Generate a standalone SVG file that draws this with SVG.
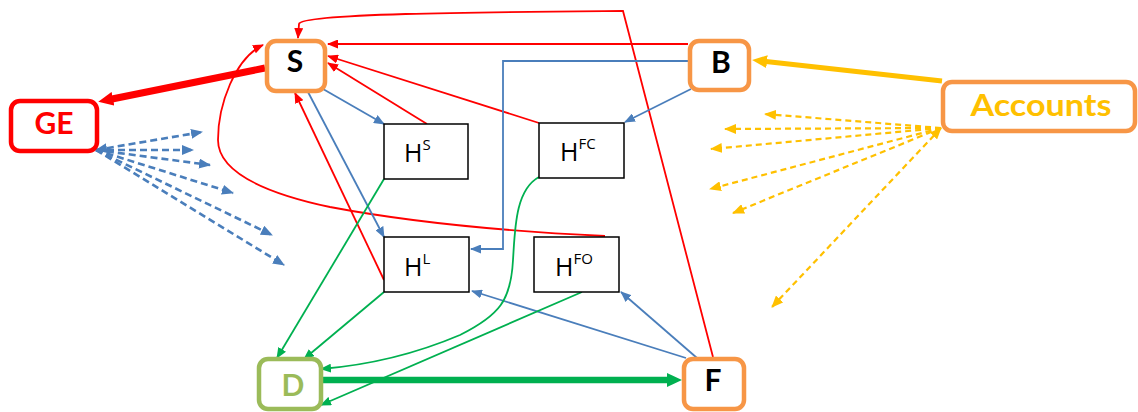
<svg xmlns="http://www.w3.org/2000/svg" width="1138" height="412" viewBox="0 0 1138 412">
<defs>
<marker id="aR" markerUnits="userSpaceOnUse" markerWidth="11" markerHeight="9" refX="10" refY="4.5" orient="auto"><path d="M0,0 L11,4.5 L0,9 z" fill="#FF0000"/></marker>
<marker id="aB" markerUnits="userSpaceOnUse" markerWidth="11" markerHeight="9" refX="10" refY="4.5" orient="auto"><path d="M0,0 L11,4.5 L0,9 z" fill="#4A7EBB"/></marker>
<marker id="aG" markerUnits="userSpaceOnUse" markerWidth="11" markerHeight="9" refX="10" refY="4.5" orient="auto"><path d="M0,0 L11,4.5 L0,9 z" fill="#00B050"/></marker>
<marker id="aBd" markerUnits="userSpaceOnUse" markerWidth="12" markerHeight="10" refX="11" refY="5" orient="auto"><path d="M0,0 L12,5 L0,10 z" fill="#4A7EBB"/></marker>
<marker id="aBds" markerUnits="userSpaceOnUse" markerWidth="12" markerHeight="10" refX="1" refY="5" orient="auto"><path d="M12,0 L0,5 L12,10 z" fill="#4A7EBB"/></marker>
<marker id="aYd" markerUnits="userSpaceOnUse" markerWidth="12" markerHeight="10" refX="11" refY="5" orient="auto"><path d="M0,0 L12,5 L0,10 z" fill="#FFC000"/></marker>
<marker id="aYds" markerUnits="userSpaceOnUse" markerWidth="12" markerHeight="10" refX="1" refY="5" orient="auto"><path d="M12,0 L0,5 L12,10 z" fill="#FFC000"/></marker>
<marker id="aRb" markerUnits="userSpaceOnUse" markerWidth="15" markerHeight="14" refX="1" refY="7" orient="auto"><path d="M0,0 L15,7 L0,14 z" fill="#FF0000"/></marker>
<marker id="aGb" markerUnits="userSpaceOnUse" markerWidth="15" markerHeight="14" refX="1" refY="7" orient="auto"><path d="M0,0 L15,7 L0,14 z" fill="#00B050"/></marker>
<marker id="aYb" markerUnits="userSpaceOnUse" markerWidth="15" markerHeight="13" refX="1" refY="6.5" orient="auto"><path d="M0,0 L15,6.5 L0,13 z" fill="#FFC000"/></marker>
</defs>
<style>
.main rect{fill:#fff;stroke-width:4.5}
.hbox rect{fill:#fff;stroke:#000;stroke-width:1.5}
.lbl{font-family:Lato,"Open Sans",sans-serif;font-weight:bold;text-anchor:middle}
.h{font-family:"Open Sans","Noto Sans",sans-serif;font-size:25px;fill:#000}
.sup{font-size:15px}
.r{fill:none;stroke:#FF0000;stroke-width:1.8}
.b{fill:none;stroke:#4A7EBB;stroke-width:1.8}
.g{fill:none;stroke:#00B050;stroke-width:1.8}
.bd{fill:none;stroke:#4A7EBB;stroke-width:2.6;stroke-dasharray:7,4}
.yd{fill:none;stroke:#FFC000;stroke-width:2.2;stroke-dasharray:6,4}
</style>
<g id="connectors">
<path class="r" d="M713,357 L623,11 C500,12 300,13 299,24 L298,38" marker-end="url(#aR)"/>
<path class="r" d="M688,44 L328,44" marker-end="url(#aR)"/>
<path class="r" d="M539,123 L328,56" marker-end="url(#aR)"/>
<path class="r" d="M427,124 L328,63" marker-end="url(#aR)"/>
<path class="r" d="M384,280 L295,93" marker-end="url(#aR)"/>
<path class="r" d="M605,236 C520,232 420,224 330,207 C260,192 218,170 218,140 C218,105 235,58 263,45" marker-end="url(#aR)"/>
<path class="b" d="M323,89 L384,124" marker-end="url(#aB)"/>
<path class="b" d="M308,92 L384,237" marker-end="url(#aB)"/>
<path class="b" d="M691,89 L625,122" marker-end="url(#aB)"/>
<path class="b" d="M688,61 L503,61 L503,249 L471,249" marker-end="url(#aB)"/>
<path class="b" d="M686,358 L472,291" marker-end="url(#aB)"/>
<path class="b" d="M697,358 L621,292" marker-end="url(#aB)"/>
<path class="g" d="M384,179 L277,358" marker-end="url(#aG)"/>
<path class="g" d="M384,292 L304,359" marker-end="url(#aG)"/>
<path class="g" d="M539,177 C515,190 515,230 513,260 C511,300 500,315 460,335 C420,352 370,365 321,369" marker-end="url(#aG)"/>
<path class="g" d="M582,292 L321,405" marker-end="url(#aG)"/>
<path d="M323,380 L668,380" stroke="#00B050" stroke-width="6.5" fill="none" marker-end="url(#aGb)"/>
<path d="M265,68 L112,99" stroke="#FF0000" stroke-width="7" fill="none" marker-end="url(#aRb)"/>
<path d="M942,81 L766,61.5" stroke="#FFC000" stroke-width="5" fill="none" marker-end="url(#aYb)"/>
<path class="bd" d="M96,150 L202,132" marker-end="url(#aBd)" marker-start="url(#aBds)"/>
<path class="bd" d="M96,150 L193,150" marker-end="url(#aBd)"/>
<path class="bd" d="M96,150 L210,165" marker-end="url(#aBd)"/>
<path class="bd" d="M96,150 L233,193" marker-end="url(#aBd)"/>
<path class="bd" d="M96,150 L272,235" marker-end="url(#aBd)"/>
<path class="bd" d="M96,150 L284,265" marker-end="url(#aBd)"/>
<path class="yd" d="M941,128 L765,114" marker-end="url(#aYd)"/>
<path class="yd" d="M941,128 L725,129" marker-end="url(#aYd)"/>
<path class="yd" d="M941,128 L711,149" marker-end="url(#aYd)"/>
<path class="yd" d="M941,128 L710,189" marker-end="url(#aYd)"/>
<path class="yd" d="M941,128 L733,213" marker-end="url(#aYd)"/>
<path class="yd" d="M941,128 L772,307" marker-end="url(#aYd)" marker-start="url(#aYds)"/>
</g>
<g id="node-S" class="main"><rect x="267" y="41" width="58" height="50" rx="9" stroke="#F79646"/><text class="lbl" x="295" y="72" font-size="30" fill="#000">S</text></g>
<g id="node-GE" class="main"><rect x="11" y="101" width="86" height="50" rx="9" stroke="#FF0000"/><text class="lbl" x="54" y="134" font-size="30" fill="#FF0000">GE</text></g>
<g id="node-B" class="main"><rect x="690" y="41" width="59" height="49" rx="9" stroke="#F79646"/><text class="lbl" x="721" y="73" font-size="30" fill="#000">B</text></g>
<g id="node-Accounts" class="main"><rect x="943" y="82" width="192" height="49" rx="9" stroke="#F79646"/><text class="lbl" x="1041" y="116" font-size="31" fill="#FFC000" textLength="141" lengthAdjust="spacingAndGlyphs">Accounts</text></g>
<g id="node-D" class="main"><rect x="259" y="359" width="62" height="50" rx="9" stroke="#9BBB59"/><text class="lbl" x="293" y="396" font-size="30" fill="#9BBB59">D</text></g>
<g id="node-F" class="main"><rect x="684" y="359" width="60" height="50" rx="9" stroke="#F79646"/><text class="lbl" x="713" y="391" font-size="30" fill="#000">F</text></g>
<g id="node-HS" class="hbox"><rect x="384" y="124" width="84" height="55"/><text class="h" x="404" y="162">H<tspan class="sup" dy="-12">S</tspan></text></g>
<g id="node-HFC" class="hbox"><rect x="539" y="123" width="85" height="55"/><text class="h" x="560" y="161">H<tspan class="sup" dy="-12">FC</tspan></text></g>
<g id="node-HL" class="hbox"><rect x="384" y="237" width="85" height="55"/><text class="h" x="404" y="276">H<tspan class="sup" dy="-12">L</tspan></text></g>
<g id="node-HFO" class="hbox"><rect x="534" y="237" width="85" height="55"/><text class="h" x="555" y="276">H<tspan class="sup" dy="-12">FO</tspan></text></g>
</svg>
